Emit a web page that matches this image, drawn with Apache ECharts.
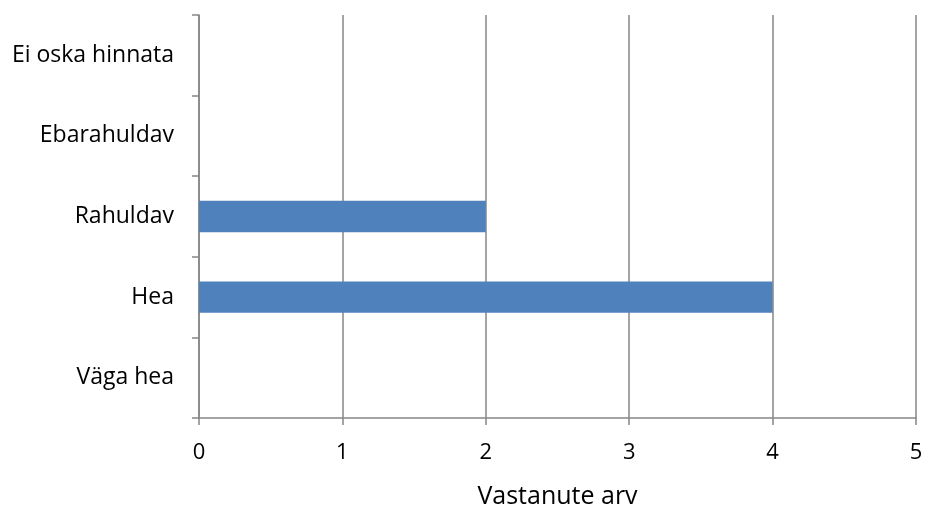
<!DOCTYPE html>
<html>
<head>
<meta charset="utf-8">
<script src="https://cdn.jsdelivr.net/npm/echarts@6/dist/echarts.min.js"></script>
<style>html,body{margin:0;padding:0;background:#fff;}#c{width:925px;height:507px;}</style>
</head>
<body>
<div id="c"></div>
<script>
var categories = ['Väga hea', 'Hea', 'Rahuldav', 'Ebarahuldav', 'Ei oska hinnata'];
var values = [0, 4, 2, 0, 0];
var xTicks = [0, 1, 2, 3, 4, 5];
var xTitle = 'Vastanute arv';

var FONT = 'Open Sans';
var chart = echarts.init(document.getElementById('c'));
chart.setOption({
  animation: false,
  backgroundColor: '#ffffff',
  grid: { left: 199, top: 15, right: 9, bottom: 89, containLabel: false, outerBoundsMode: 'none' },
  xAxis: {
    type: 'value',
    min: xTicks[0],
    max: xTicks[xTicks.length - 1],
    interval: 1,
    name: xTitle,
    nameLocation: 'middle',
    nameGap: 66,
    nameTextStyle: { fontFamily: FONT, fontSize: 25, color: '#000' },
    axisLine: { show: true, lineStyle: { color: '#868686', width: 1.5 } },
    axisTick: { show: true, length: 7, lineStyle: { color: '#868686', width: 1.5 } },
    axisLabel: { fontFamily: FONT, fontSize: 22, color: '#000', margin: 24 },
    splitLine: { show: true, lineStyle: { color: '#868686', width: 1.5 } }
  },
  yAxis: {
    type: 'category',
    data: categories,
    axisLine: { show: true, lineStyle: { color: '#868686', width: 1.5 } },
    axisTick: { show: true, length: 7, lineStyle: { color: '#868686', width: 1.5 } },
    axisLabel: { fontFamily: FONT, fontSize: 23, color: '#000', margin: 25 },
    splitLine: { show: false }
  },
  series: [{
    type: 'bar',
    data: values,
    barWidth: '39%',
    itemStyle: { color: '#4F81BD' }
  }]
});
</script>
</body>
</html>
